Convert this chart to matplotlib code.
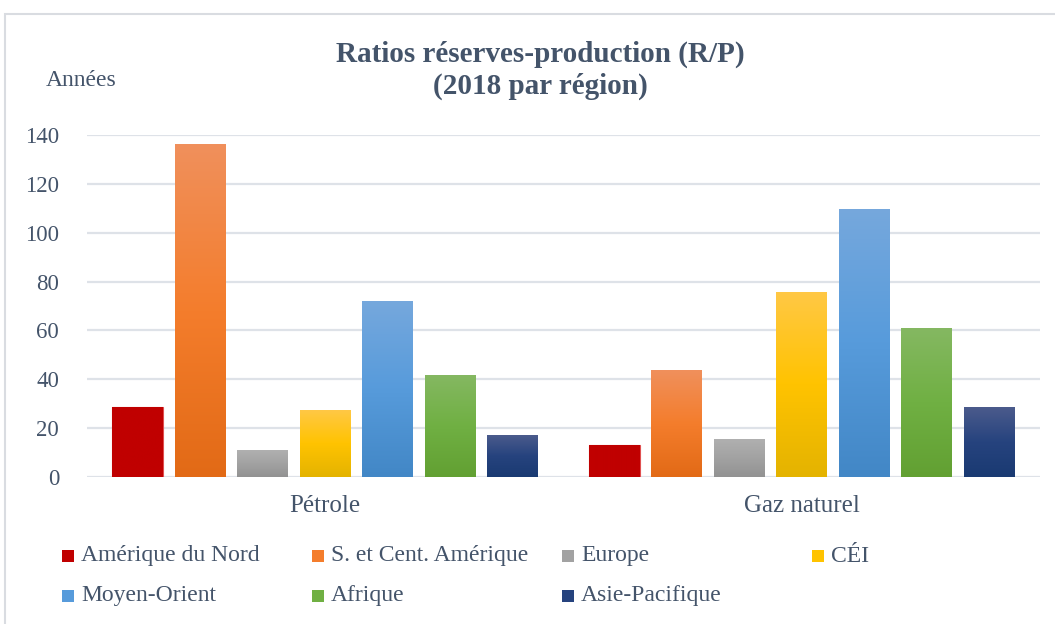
import numpy as np
import matplotlib
matplotlib.use("Agg")
import matplotlib.pyplot as plt
from matplotlib.colors import LinearSegmentedColormap
from matplotlib.patches import Rectangle

plt.rcParams['font.family'] = ['Liberation Serif', 'DejaVu Serif']

categories = ["Pétrole", "Gaz naturel"]
regions = ["Amérique du Nord", "S. et Cent. Amérique", "Europe", "CÉI",
           "Moyen-Orient", "Afrique", "Asie-Pacifique"]
petrole = [28.7, 136.2, 11.0, 27.4, 72.1, 41.9, 17.1]
gaz = [13.0, 43.7, 15.5, 75.6, 109.9, 61.0, 28.6]
yticks = [0, 20, 40, 60, 80, 100, 120, 140]

# gradient stops per region: top, middle, bottom
gradients = [
    ["#C00000", "#C00000", "#C00000"],
    ["#F0905C", "#F47D2C", "#E26A16"],
    ["#B0B0B0", "#A2A2A2", "#929292"],
    ["#FFC845", "#FFC300", "#E4B300"],
    ["#76A8DD", "#579BDB", "#4287C6"],
    ["#85B862", "#70B043", "#62A032"],
    ["#4B5B8C", "#26437E", "#1A3A72"],
]
text_col = "#44546A"
grid_col = "#DEE2E8"

W, H = 1055, 624
fig = plt.figure(figsize=(W / 100, H / 100), dpi=100)
ax = fig.add_axes([87 / W, 1 - 477 / H, (1040 - 87) / W, (477 - 135) / H])

values = np.array([petrole, gaz]).T
x = np.arange(len(categories))
pitch = 0.1313
width = 0.107

for i, reg in enumerate(regions):
    off = (i - 3) * pitch
    bars = ax.bar(x + off, values[i], width, color=gradients[i][1], zorder=2,
                  edgecolor="#E05050" if i == 0 else "none",
                  linewidth=0.8 if i == 0 else 0)
    cmap = LinearSegmentedColormap.from_list("g%d" % i, gradients[i][::-1])
    grad = np.linspace(0, 1, 256).reshape(-1, 1)
    for b in bars:
        x0, y0 = b.get_x(), b.get_y()
        im = ax.imshow(grad, cmap=cmap, origin="lower", aspect="auto",
                       extent=[x0, x0 + b.get_width(), y0, y0 + b.get_height()],
                       zorder=2.5, interpolation="bilinear")
        im.set_clip_path(b)

ax.set_xlim(-0.5, 1.5)
ax.set_ylim(0, 140)
ax.set_yticks(yticks)
ax.set_xticks(x)
ax.set_xticklabels(categories)
ax.tick_params(axis="both", length=0, colors=text_col)
ax.tick_params(axis="y", pad=20, labelsize=16.5)
ax.tick_params(axis="x", pad=13, labelsize=18)
ax.grid(axis="y", color=grid_col, linewidth=1.6, zorder=0)
for s in ax.spines.values():
    s.set_visible(False)

fig.text(540 / W, 1 - 70 / H, "Ratios réserves-production (R/P)\n(2018 par région)",
         ha="center", va="center", fontsize=21, fontweight="bold", color=text_col,
         linespacing=1.22)
fig.text(46 / W, 1 - 81 / H, "Années", ha="left", va="center", fontsize=17,
         color=text_col)

# legend: 4 equal columns, 2 rows
col_x = [62, 312, 562, 812]
row_y = [556, 596]
for i, reg in enumerate(regions):
    cx = col_x[i % 4]
    cy = row_y[i // 4]
    fig.add_artist(Rectangle((cx / W, 1 - (cy + 6) / H), 12 / W, 12 / H,
                             transform=fig.transFigure,
                             color=gradients[i][1], linewidth=0))
    fig.text((cx + 19) / W, 1 - cy / H, reg, ha="left", va="center",
             fontsize=17, color=text_col)

# outer chart frame (left and top edges visible)
fig.add_artist(Rectangle((5 / W, -0.05), 1.1, 1 - 14 / H + 0.05,
                         transform=fig.transFigure, fill=False,
                         edgecolor="#D9DCE1", linewidth=1.5))

fig.savefig("out.png", dpi=100)
